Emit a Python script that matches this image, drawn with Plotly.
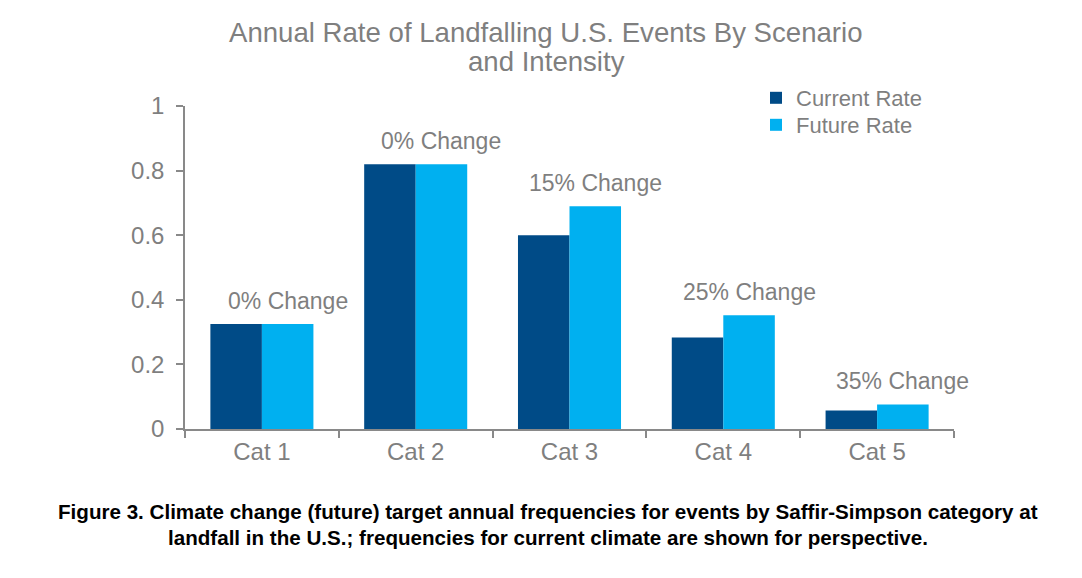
import plotly.graph_objects as go

categories = ["Cat 1", "Cat 2", "Cat 3", "Cat 4", "Cat 5"]
current_rate = [0.325, 0.82, 0.60, 0.283, 0.057]
future_rate = [0.325, 0.82, 0.69, 0.352, 0.076]
change_labels = ["0% Change", "0% Change", "15% Change", "25% Change", "35% Change"]
y_ticks = [0, 0.2, 0.4, 0.6, 0.8, 1]
title_lines = ["Annual Rate of Landfalling U.S. Events By Scenario", "and Intensity"]

GRAY = "#7f7f7f"
AXIS = "#898989"
FONT = "Liberation Sans, Arial, sans-serif"

W, H = 1066, 562
L, R, T, B = 177, 120, 98, 141
PW, PH = W - L - R, H - T - B


def py(y_px):
    return (H - B - y_px) / PH


def px(x_px):
    return (x_px - L) / PW


fig = go.Figure()
fig.add_trace(go.Bar(x=categories, y=current_rate, name="Current Rate",
                     marker=dict(color="#004B87", line=dict(width=0)), legend="legend"))
fig.add_trace(go.Bar(x=categories, y=future_rate, name="Future Rate",
                     marker=dict(color="#00B0F0", line=dict(width=0)), legend="legend2"))

bargap = 0.33
half = (1 - bargap) / 4
for i, (v, lab) in enumerate(zip(future_rate, change_labels)):
    fig.add_annotation(x=i + half, y=v, text=lab, showarrow=False,
                       xref="x", yref="y", yanchor="bottom", yshift=8,
                       font=dict(family=FONT, size=23, color=GRAY))

# title (two lines)
for txt, yp in zip(title_lines, [24, 54]):
    fig.add_annotation(xref="paper", yref="paper", x=px(538), y=py(yp),
                       xanchor="center", yanchor="middle", showarrow=False,
                       text=txt, font=dict(family=FONT, size=27.6, color=GRAY))

cap_lines = ["<b>Figure 3. Climate change (future) target annual frequencies for events by Saffir-Simpson category at</b>",
             "<b>landfall in the U.S.; frequencies for current climate are shown for perspective.</b>"]
for txt, yp in zip(cap_lines, [503, 529]):
    fig.add_annotation(xref="paper", yref="paper", x=px(539.5), y=py(yp),
                       xanchor="center", yanchor="middle", showarrow=False,
                       text=txt, font=dict(family=FONT, size=20.6, color="black"))

leg_common = dict(x=px(748), xanchor="left", yanchor="middle",
                  font=dict(family=FONT, size=22, color=GRAY),
                  bgcolor="rgba(0,0,0,0)")

fig.update_layout(
    width=W, height=H,
    margin=dict(l=L, r=R, t=T, b=B),
    paper_bgcolor="white", plot_bgcolor="white",
    barmode="group", bargap=bargap, bargroupgap=0,
    font=dict(family=FONT, color=GRAY),
    legend=dict(y=py(90), **leg_common),
    legend2=dict(y=py(117), **leg_common),
    showlegend=True,
)
fig.update_xaxes(showline=True, linecolor=AXIS, linewidth=1.5,
                 ticks="outside", tickson="boundaries", ticklen=7, tickcolor=AXIS,
                 tickwidth=1.5, tickfont=dict(family=FONT, size=24, color=GRAY),
                 showgrid=False, range=[-0.5, 4.5])
fig.update_yaxes(showline=True, linecolor=AXIS, linewidth=1.5,
                 ticks="outside", ticklen=7, tickcolor=AXIS, tickwidth=1.5,
                 tickvals=y_ticks, range=[0, 1], showgrid=False, zeroline=False,
                 ticklabelstandoff=7,
                 tickfont=dict(family=FONT, size=24, color=GRAY))

fig.write_html("out.html")
